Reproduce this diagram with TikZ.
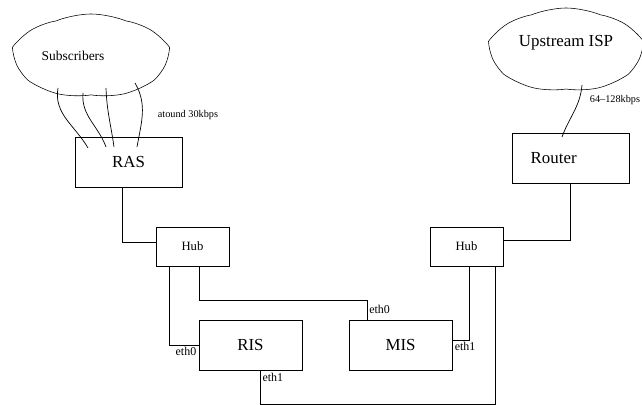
\documentclass[tikz,border=0pt]{standalone}
\usepackage{fontspec}
\setmainfont{Liberation Serif}
\usepackage{tikz}
\usetikzlibrary{positioning, shapes.symbols}

\begin{document}
\begin{tikzpicture}[
    x=0.025cm, y=-0.025cm,
    box/.style={rectangle, draw, minimum height=1.25cm, font=\fontsize{12}{14}\selectfont},
    hub/.style={rectangle, draw, minimum width=1.825cm, minimum height=0.975cm, font=\fontsize{9}{11}\selectfont},
    cloudy/.style={cloud, draw, cloud puffs=7, cloud puff arc=45, aspect=1.85},
    link/.style={line width=0.5pt},
    port/.style={font=\fontsize{8.5}{10}\selectfont, inner sep=1.5pt},
    rate/.style={font=\fontsize{7.3}{9}\selectfont, inner sep=0pt}
]
\useasboundingbox (0,0) rectangle (642,405);

% Nodes
\node[cloudy, minimum width=3.8cm, minimum height=2.1cm,
      label={[xshift=-0.45cm, font=\fontsize{9.6}{11}\selectfont]center:Subscribers}] (subs) at (91,56) {};
\node[cloudy, minimum width=3.75cm, minimum height=2.1cm,
      label={[yshift=0.17cm, font=\fontsize{12}{14}\selectfont]center:Upstream ISP}] (isp) at (566,50) {};

\node[box, minimum width=2.675cm] (ras) at (128.5,162) {RAS};
\node[box, minimum width=2.925cm, label={[xshift=-0.42cm, font=\fontsize{12}{14}\selectfont]center:Router}] (router) at (570.5,158) {};

\node[hub] (hubL) at (192.5,246.5) {Hub};
\node[hub] (hubR) at (466.5,246.5) {Hub};

\node[box, minimum width=2.575cm] (ris) at (250.5,345) {RIS};
\node[box, minimum width=2.575cm] (mis) at (400.5,345) {MIS};

% Dial-in lines
\coordinate (s1) at (58,88);   \coordinate (r1) at (88,148);
\coordinate (s2) at (83,93);   \coordinate (r2) at (106,147);
\coordinate (s3) at (106,88);  \coordinate (r3) at (114,147);
\coordinate (s4) at (135,83);  \coordinate (r4) at (137,147);
\draw[link] (s1) to[out=-100, in=120] (r1);
\draw[link] (s2) to[out=-95, in=110] (r2);
\draw[link] (s3) to[out=-88, in=98] (r3);
\draw[link] (s4) to[out=-60, in=80] (r4);
\node[rate] at (188,115) {atound 30kbps};

% Uplink
\coordinate (u1) at (582,85);
\coordinate (u2) at (562,137);
\draw[link] (u1) to[out=-95, in=70] (u2);
\node[rate] at (615,100) {64--128kbps};

% Edges
\draw[link] ([xshift=-0.16cm]ras.south) |- ([yshift=0.11cm]hubL.west);
\draw[link] (router.south) |- ([yshift=0.16cm]hubR.east);

\draw[link] ([xshift=-0.59cm]hubL.south) |- (ris.west)
    node[port, below left] {eth0};
\draw[link] ([xshift=0.16cm]hubL.south) -- ++(0,34) -| ([xshift=-0.84cm]mis.north)
    node[port, above right, yshift=0.08cm] {eth0};
\draw[link] ([xshift=0.06cm]hubR.south) |- ([yshift=0.12cm]mis.east)
    node[port, below right] {eth1};
\draw[link] ([xshift=0.24cm]ris.south) node[port, below right] {eth1}
    -- ++(0,34) -| ([xshift=0.71cm]hubR.south);

\end{tikzpicture}
\end{document}
